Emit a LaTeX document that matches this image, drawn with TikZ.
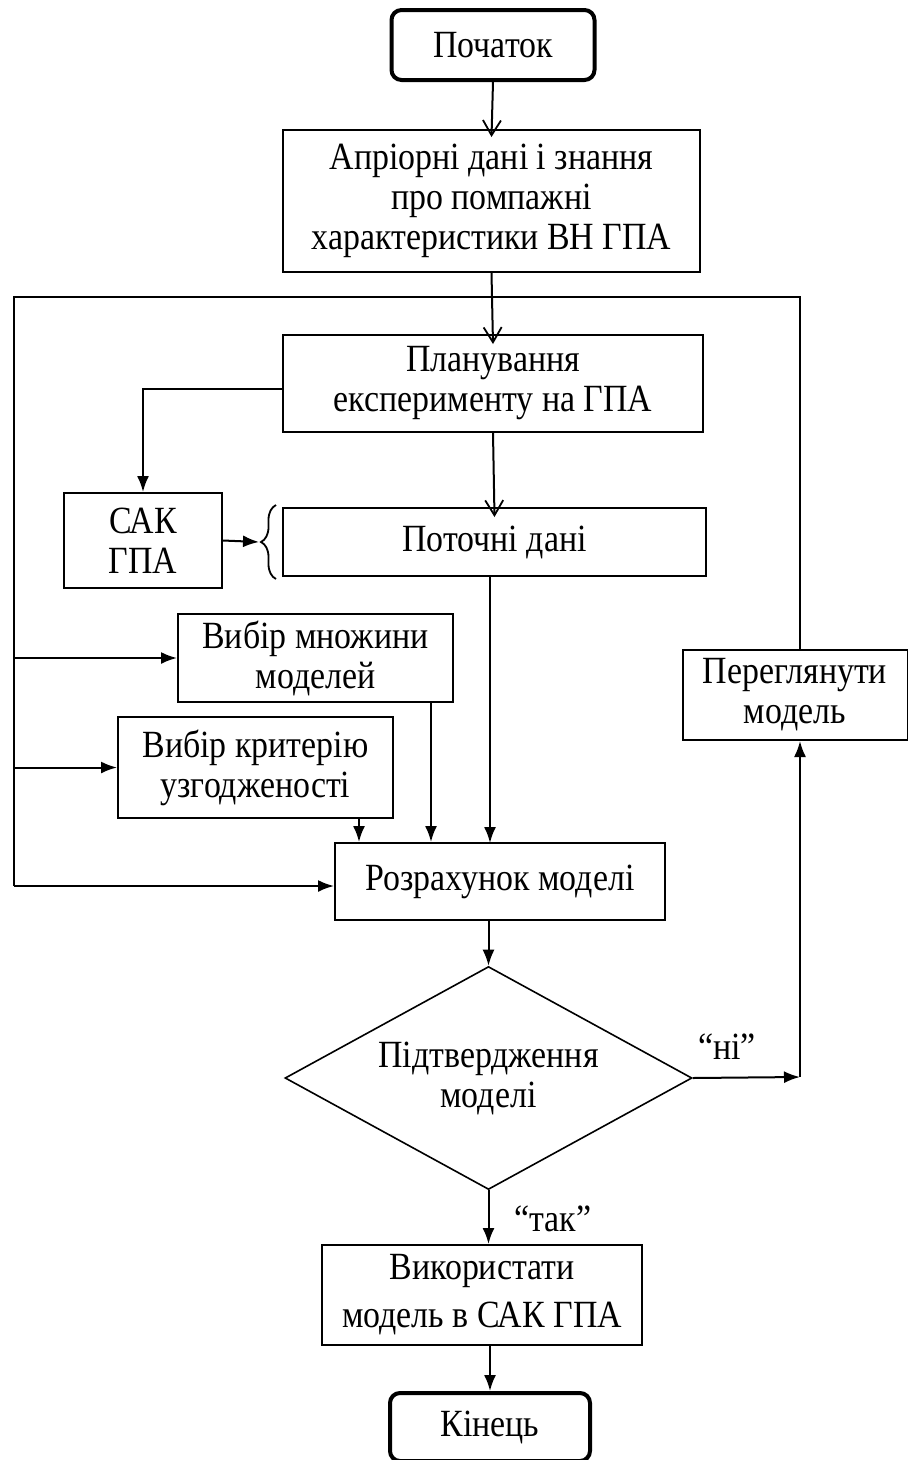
\documentclass[tikz,border=0pt]{standalone}
\usepackage{fontspec}
\setmainfont{Liberation Serif}[FakeStretch=0.88]
\usetikzlibrary{arrows.meta,shapes.geometric,decorations.pathreplacing}
\begin{document}
\begin{tikzpicture}[x=1pt,y=-1pt,
  every node/.style={font=\fontsize{38.5}{40}\selectfont},
  box/.style={draw,line width=2pt,inner sep=0pt,align=center},
  term/.style={draw,line width=4pt,rounded corners=10pt,inner sep=0pt,align=center},
  conn/.style={line width=2pt},
  farrow/.style={conn,-{Latex[length=16pt,width=12pt]}},
  oarrow/.style={conn,-{Straight Barb[length=15pt,width=18pt,line width=1.8pt]}}]
\useasboundingbox (0,0) rectangle (908,1460);
\node[term,minimum width=203pt,minimum height=70pt] (start) at (493,45) {Початок};
\node[box,minimum width=417pt,minimum height=142pt] (apr) at (491.5,201) {Апріорні дані і знання\\про помпажні\\характеристики ВН ГПА};
\node[box,minimum width=420pt,minimum height=97pt] (plan) at (493,383.5) {Планування\\експерименту на ГПА};
\node[box,minimum width=158pt,minimum height=95pt] (sak) at (143,540.5) {САК\\ГПА};
\node[box,minimum width=423pt,minimum height=68pt] (cur) at (494.5,542) {Поточні дані};
\node[box,minimum width=275pt,minimum height=88pt] (vm) at (315.5,658) {Вибір множини\\моделей};
\node[box,minimum width=275pt,minimum height=101pt] (vk) at (255.5,767.5) {Вибір критерію\\узгодженості};
\node[box,minimum width=330pt,minimum height=77pt] (calc) at (500,881.5) {Розрахунок моделі};
\node[draw,diamond,line width=1.6pt,inner sep=0pt,aspect=1.825,minimum width=407pt,minimum height=223pt,align=center] (dia) at (488.5,1078) {Підтвердження\\моделі};
\node[box,minimum width=225pt,minimum height=90pt] (rev) at (795,695) {Переглянути\\модель};
\node[box,minimum width=320pt,minimum height=100pt,font=\fontsize{38.5}{48}\selectfont] (use) at (482,1295) {Використати\\модель в САК ГПА};
\node[term,minimum width=200pt,minimum height=68pt] (end) at (490,1427) {Кінець};
\node (ni) at (727,1047) {“ні”};
\node (tak) at (553,1219) {“так”};
% loop frame
\coordinate (lt) at (14,297);
\coordinate (rt) at (800,297);
\coordinate (lb) at (14,886);
\coordinate (rj) at (800,1077);
\draw[conn] (lb) -- (lt) -- (rt) -- (rt |- rev.north);
\draw[farrow] (14,658) -- (vm.west);
\draw[farrow] (14,767.5) -- (vk.west);
\draw[farrow] (lb) -- (lb -| calc.west);
% main flow
\draw[oarrow] (start.south) -- ([yshift=-8pt]apr.north);
\draw[oarrow] (apr.south) -- ([yshift=-10pt]plan.north);
\draw[oarrow] (plan.south) -- ([yshift=-10pt]cur.north);
\draw[farrow] ([yshift=-5pt]plan.west) -| (sak.north);
\draw[decorate,decoration={brace,amplitude=15pt},line width=1.8pt] (276,579) -- (276,505);
\draw[farrow] (sak.east) -- (259,542);
\draw[farrow] (490,576) -- (490,843);
\draw[farrow] ([xshift=-23pt]vm.south east) -- ([xshift=-23pt]vm.south east |- calc.north);
\draw[farrow] ([xshift=-35pt]vk.south east) -- ([xshift=-35pt]vk.south east |- calc.north);
\draw[farrow] (calc.south -| dia.north) -- (dia.north);
\draw[farrow] (dia.east) -- (rj);
\draw[farrow] (rj) -- (rev.south -| rj);
\draw[farrow] (dia.south) -- (dia.south |- use.north);
\draw[farrow] (use.south -| end.north) -- (end.north);
\end{tikzpicture}
\end{document}
